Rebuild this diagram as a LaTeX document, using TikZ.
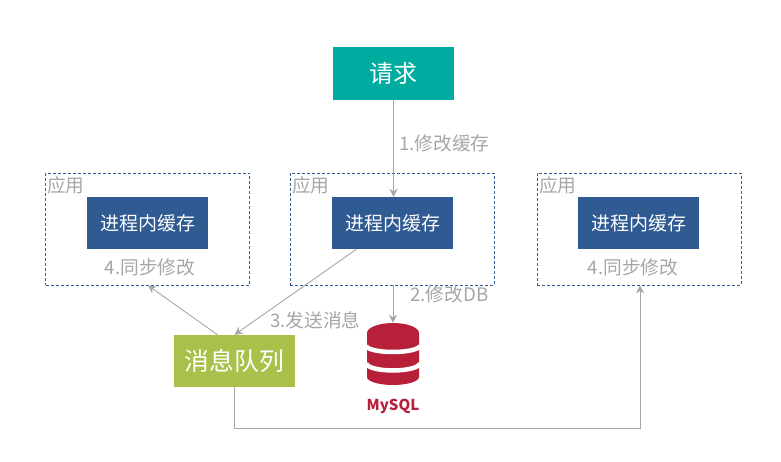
\documentclass[tikz,border=0pt]{standalone}
\usepackage{fontspec}
\setmainfont{Noto Sans CJK SC}
\usetikzlibrary{arrows.meta}
\definecolor{reqteal}{HTML}{00ABA0}
\definecolor{cacheblue}{HTML}{2F5A92}
\definecolor{mqgreen}{HTML}{A9C04A}
\definecolor{dbred}{HTML}{B8203A}
\definecolor{linegray}{HTML}{A6A6A6}
\tikzset{
  solidbox/.style={minimum width=121pt,text=white},
  reqbox/.style={solidbox,fill=reqteal,minimum height=53pt,font=\fontsize{24}{24}\selectfont},
  cachebox/.style={solidbox,fill=cacheblue,minimum height=52pt,font=\fontsize{19}{19}\selectfont},
  mqbox/.style={solidbox,fill=mqgreen,minimum height=52pt,font=\fontsize{24.8}{24.8}\selectfont},
  appbox/.style={draw=cacheblue,densely dashed,line width=0.8pt,minimum width=204pt,minimum height=112pt},
  graytext/.style={text=linegray,font=\fontsize{18.7}{18.7}\selectfont},
  link/.style={draw=linegray,line width=0.9pt,-{Stealth[length=8pt,width=8pt]}}
}
\begin{document}
\begin{tikzpicture}[x=1pt,y=1pt]
  \tikzstyle{every node}+=[inner sep=0pt]
  \useasboundingbox (0,0) rectangle (781,-462);
  % application frames
  \node [appbox] (appa) at (147.5,-229) {};
  \node [appbox] (appb) at (392,-229) {};
  \node [appbox] (appc) at (639,-229) {};
  \node [graytext,anchor=west] (namea) at (47,-185) {应用};
  \node [graytext,anchor=west] (nameb) at (292,-185) {应用};
  \node [graytext,anchor=west] (namec) at (539,-185) {应用};
  % boxes
  \node [reqbox] (req) at (393.5,-73.5) {请求};
  \node [cachebox] (cachea) at (147.5,-223) {进程内缓存};
  \node [cachebox] (cacheb) at (392.5,-223) {进程内缓存};
  \node [cachebox] (cachec) at (638.5,-223) {进程内缓存};
  \node [mqbox] (mq) at (234.5,-361) {消息队列};
  % database
  \node [minimum width=52pt,minimum height=62pt] (db) at (393,-354) {};
  \fill [dbred] (367,-333) arc [start angle=180,end angle=0,x radius=26,y radius=10]
    -- (419,-377) arc [start angle=360,end angle=180,x radius=26,y radius=8] -- cycle;
  \draw [white,line width=4.5pt] (366,-345.5) arc [start angle=180,end angle=360,x radius=27,y radius=6.5];
  \draw [white,line width=4.5pt] (366,-363) arc [start angle=180,end angle=360,x radius=27,y radius=7.5];
  \node [text=dbred,font=\bfseries\fontsize{15}{15}\selectfont] (dbname) at (393,-406) {MySQL};
  % labels
  \node [graytext,anchor=west] (stepa) at (399,-143) {1.修改缓存};
  \node [graytext,anchor=west] (stepb) at (410,-294) {2.修改DB};
  \node [graytext,anchor=west] (stepc) at (270,-320) {3.发送消息};
  \node [graytext] (stepd) at (150,-267) {4.同步修改};
  \node [graytext] (stepe) at (633,-267) {4.同步修改};
  % connectors
  \coordinate (turn) at (640,-428);
  \draw [link] (req.south) -- (req.south |- cacheb.north);
  \draw [link] (appb.south -| db.north) -- (db.north);
  \draw [link] ([xshift=-36pt]cacheb.south) -- (mq.north);
  \draw [link] ([xshift=-17pt]mq.north) -- ([xshift=0.5pt]appa.south);
  \draw [link] (mq.south) |- (turn) -- (turn |- appc.south);
\end{tikzpicture}
\end{document}
